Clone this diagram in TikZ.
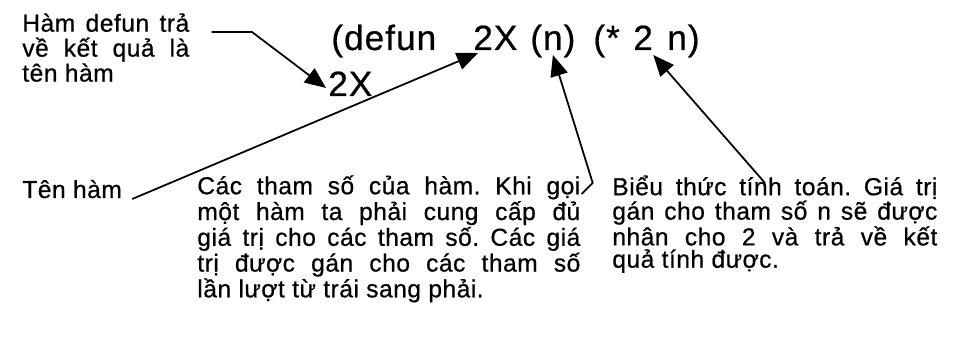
\documentclass[tikz,border=0pt]{standalone}
\usepackage{fontspec}
\setmainfont{Liberation Sans}
\newfontfamily\notefont{Liberation Sans}[LetterSpace=2, FakeBold=0.6]
\newfontfamily\codefont{Liberation Sans}[LetterSpace=3, FakeBold=0.6]
\usetikzlibrary{arrows.meta, positioning, calc}
\frenchspacing

\begin{document}
\begin{tikzpicture}[
  x=0.02cm, y=-0.02cm,
  note/.style={inner sep=0pt, font=\notefont\fontsize{14}{14.2}\selectfont, align=justify},
  tight/.style={font=\notefont\fontsize{14}{12.7}\selectfont},
  code/.style={inner sep=0pt, anchor=base west, font=\codefont\fontsize{20}{22}\selectfont},
  pointer/.style={-{Triangle[length=12pt, width=10pt]}, line width=1pt},
]
\useasboundingbox (0,0) rectangle (953,337);

%% The defun form
\node[code] (open) at (331,50) {(defun};
\node[code] (fname) at (473,50) {2X};
\node[code] (par) at (530,50) {(n)};
\node[code] (mul) at (593,50) {(*};
\node[code] (two) at (633,50) {2};
\node[code] (close) at (667,50) {n)};
\node[code] (result) at (328,96) {2X};

%% Notes
\node[note, text width=95pt, anchor=north west] (ret) at (22,13)
  {Hàm defun trả về kết quả là tên hàm};
\node[note, anchor=base west] (name) at (22,198) {Tên hàm};
\node[note, tight, text width=218pt, anchor=north west] (params) at (197,175)
  {Các tham số của hàm. Khi gọi\linebreak một hàm ta phải cung cấp đủ\linebreak
   giá trị cho các tham số. Các giá\linebreak trị được gán cho các tham số\linebreak
   lần lượt từ trái sang phải.};
\node[note, tight, text width=185pt, anchor=north west] (expr) at (612,175)
  {Biểu thức tính toán. Giá trị\linebreak gán cho tham số n sẽ được\linebreak
   nhân cho 2 và trả về kết\linebreak quả tính được.};

%% Pointers
\coordinate (retbend) at (252,32);
\draw[pointer] ($(ret.north east)+(22,19)$) -- (retbend) -- ($(result.base west)+(-2,-8)$);
\draw[pointer] ($(name.base east)+(10,1)$) -- ($(fname.base west)+(5,3)$);
\draw[pointer] ($(params.north east)+(1,19)$) -- ++(11,-11) -- ($(par.base)+(0,5)$);
\draw[pointer] ($(expr.north west)+(153,8)$) -- ($(two.base east)+(0,5)$);

\end{tikzpicture}
\end{document}
